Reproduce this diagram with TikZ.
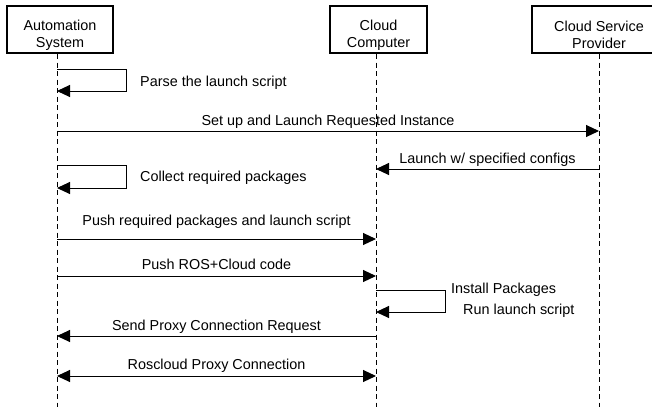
\documentclass[tikz,border=0pt]{standalone}
\usepackage{fontspec}
\setmainfont{Liberation Sans}
\usetikzlibrary{arrows.meta,positioning}

\begin{document}
\begin{tikzpicture}[x=1pt,y=-1pt,
    actor/.style={draw, line width=2pt, minimum height=47pt, inner sep=0pt, align=center, text height=38pt},
    life/.style={line width=0.9pt, dash pattern=on 5pt off 3.5pt},
    msg/.style={line width=1pt, -{Triangle[length=13pt,width=12pt]}},
    both/.style={line width=1pt, {Triangle[length=13pt,width=12pt]}-{Triangle[length=13pt,width=12pt]}},
    lbl/.style={inner sep=0pt, anchor=base}]
  \useasboundingbox (0,0) rectangle (652,407);
  \fontsize{14.4pt}{16.5pt}\selectfont
  % participants
  \node[actor, minimum width=106pt](as) at (60,29.5){Automation\\System};
  \node[actor, minimum width=97pt](cc) at (378.5,29.5){Cloud\\Computer};
  \node[actor, minimum width=134pt](csp) at (599,29.5){Cloud Service\\Provider};
  % lifelines
  \coordinate (asT) at (57,54);  \coordinate (asB) at (57,407);
  \coordinate (ccT) at (376,54); \coordinate (ccB) at (376,407);
  \coordinate (cspT) at (599,54); \coordinate (cspB) at (599,407);
  \draw[life] (asT) -- (asB);
  \draw[life] (ccT) -- (ccB);
  \draw[life] (cspT) -- (cspB);
  % messages
  \draw[msg] (asT |- 0,69) -| (126,91) -- (asT |- 0,91);
  \node[lbl, anchor=base west](parse) at (140,86){Parse the launch script};
  \draw[msg] (asT |- 0,131) -- (cspT |- 0,131);
  \node[lbl](setup) at (328,125.7){Set up and Launch Requested Instance};
  \draw[msg] (cspT |- 0,169) -- (ccT |- 0,169);
  \node[lbl](launch) at (487.5,163){Launch w/ specified configs};
  \draw[msg] (asT |- 0,165) -| (126,188) -- (asT |- 0,188);
  \node[lbl, anchor=base west](collect) at (140,181.7){Collect required packages};
  \draw[msg] (asT |- 0,239) -- (ccT |- 0,239);
  \node[lbl](push1) at (216.5,225){Push required packages and launch script};
  \draw[msg] (asT |- 0,276) -- (ccT |- 0,276);
  \node[lbl](push2) at (216.5,269.5){Push ROS+Cloud code};
  \draw[msg] (ccT |- 0,290) -| (445,312) -- (ccT |- 0,312);
  \node[lbl, anchor=base west](install) at (451,293.3){Install Packages};
  \node[lbl, anchor=base west](run) at (463,314.3){Run launch script};
  \draw[msg] (ccT |- 0,336) -- (asT |- 0,336);
  \node[lbl](proxyreq) at (216.5,330){Send Proxy Connection Request};
  \draw[both] (asT |- 0,376) -- (ccT |- 0,376);
  \node[lbl](proxy) at (216.5,369.5){Roscloud Proxy Connection};
\end{tikzpicture}
\end{document}
